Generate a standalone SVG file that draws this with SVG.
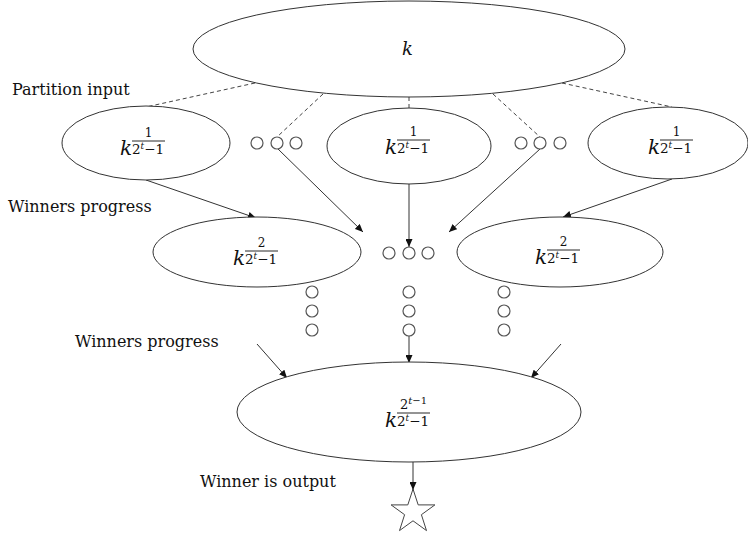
<svg xmlns="http://www.w3.org/2000/svg" width="748" height="537" viewBox="0 0 748 537">
<style>
.node{fill:#fff;stroke:#333;stroke-width:1}
.dot{fill:#fff;stroke:#555;stroke-width:1.2}
.lbl{font-family:"DejaVu Serif","Liberation Serif",serif;font-size:16px;fill:#111}
.mk{font-family:"DejaVu Serif","Liberation Serif",serif;font-style:italic;font-size:20px;fill:#111}
.num{font-family:"DejaVu Serif","Liberation Serif",serif;font-size:12px;fill:#111;text-anchor:middle}
.den{font-family:"DejaVu Serif","Liberation Serif",serif;font-size:13.5px;fill:#111}
.sup{font-style:italic;font-size:9px}
.fl{stroke:#111;stroke-width:0.9}
.dash{stroke:#444;stroke-width:1;stroke-dasharray:4,3;fill:none}
.arr{stroke:#333;stroke-width:1;fill:none;marker-end:url(#ah)}
</style>
<defs>
<marker id="ah" markerWidth="9" markerHeight="7" refX="8" refY="3.5" orient="auto" markerUnits="userSpaceOnUse">
<path d="M0,0 L8,3.5 L0,7 z" fill="#111"/>
</marker>
<g id="den">
<line class="fl" x1="12" y1="-14" x2="45" y2="-14"/>
<text class="den" x="12" y="-1">2<tspan class="sup" dy="-5.5">t</tspan><tspan dy="5.5">−1</tspan></text>
</g>
</defs>

<g id="connectors">
<line class="dash" x1="255" y1="83" x2="146" y2="107"/>
<line class="dash" x1="323" y1="94" x2="277" y2="137"/>
<line class="dash" x1="409" y1="97" x2="409" y2="108"/>
<line class="dash" x1="493" y1="94" x2="540" y2="137"/>
<line class="dash" x1="562" y1="83" x2="672" y2="107"/>
<line class="arr" x1="146" y1="180" x2="256" y2="218"/>
<line class="arr" x1="278" y1="149" x2="363" y2="232"/>
<line class="arr" x1="409" y1="184" x2="409" y2="247"/>
<line class="arr" x1="540" y1="149" x2="449" y2="232"/>
<line class="arr" x1="672" y1="179" x2="563" y2="217"/>
<line class="arr" x1="257" y1="344" x2="287" y2="378"/>
<line class="arr" x1="409" y1="336" x2="409" y2="363"/>
<line class="arr" x1="561" y1="344" x2="531" y2="378"/>
<line class="arr" x1="413" y1="462" x2="413" y2="490"/>
</g>

<g id="input">
<ellipse class="node" cx="409" cy="49" rx="216" ry="48"/>
<text class="mk" x="402" y="55" style="font-size:18px">k</text>
</g>

<g id="part-left">
<ellipse class="node" cx="146" cy="143" rx="84" ry="37"/>
<g transform="translate(120,155)"><text class="mk" x="0" y="0">k</text><text class="num" x="28.5" y="-18">1</text><use href="#den"/></g>
</g>
<g id="part-mid">
<ellipse class="node" cx="409" cy="146" rx="82" ry="38"/>
<g transform="translate(385,154)"><text class="mk" x="0" y="0">k</text><text class="num" x="28.5" y="-18">1</text><use href="#den"/></g>
</g>
<g id="part-right">
<ellipse class="node" cx="668" cy="143" rx="80" ry="36"/>
<g transform="translate(648,154)"><text class="mk" x="0" y="0">k</text><text class="num" x="28.5" y="-18">1</text><use href="#den"/></g>
</g>

<g id="dots-row1-left">
<circle class="dot" cx="257" cy="143" r="6"/>
<circle class="dot" cx="277" cy="143" r="6"/>
<circle class="dot" cx="296" cy="143" r="6"/>
</g>
<g id="dots-row1-right">
<circle class="dot" cx="521" cy="143" r="6"/>
<circle class="dot" cx="540" cy="143" r="6"/>
<circle class="dot" cx="560" cy="143" r="6"/>
</g>

<g id="round2-left">
<ellipse class="node" cx="257" cy="252" rx="104" ry="35"/>
<g transform="translate(233,265)"><text class="mk" x="0" y="0">k</text><text class="num" x="28.5" y="-18">2</text><use href="#den"/></g>
</g>
<g id="round2-right">
<ellipse class="node" cx="560" cy="252" rx="103" ry="35"/>
<g transform="translate(535,264)"><text class="mk" x="0" y="0">k</text><text class="num" x="28.5" y="-18">2</text><use href="#den"/></g>
</g>

<g id="dots-row2-mid">
<circle class="dot" cx="389" cy="253" r="6"/>
<circle class="dot" cx="409" cy="253" r="6"/>
<circle class="dot" cx="428" cy="253" r="6"/>
</g>
<g id="dots-col-left">
<circle class="dot" cx="312" cy="292" r="6"/>
<circle class="dot" cx="312" cy="311" r="6"/>
<circle class="dot" cx="312" cy="330" r="6"/>
</g>
<g id="dots-col-mid">
<circle class="dot" cx="409" cy="292" r="6"/>
<circle class="dot" cx="409" cy="311" r="6"/>
<circle class="dot" cx="409" cy="330" r="6"/>
</g>
<g id="dots-col-right">
<circle class="dot" cx="504" cy="292" r="6"/>
<circle class="dot" cx="504" cy="311" r="6"/>
<circle class="dot" cx="504" cy="330" r="6"/>
</g>

<g id="final">
<ellipse class="node" cx="409" cy="412" rx="172" ry="50"/>
<g transform="translate(385,427)"><text class="mk" x="0" y="0">k</text><text class="num" x="28.5" y="-18" style="font-size:13px">2<tspan style="font-style:italic;font-size:10px" dy="-5">t</tspan><tspan style="font-size:10px">−1</tspan></text><use href="#den"/></g>
</g>

<g id="winner">
<polygon points="413,489 418.2,504.9 434.9,504.9 421.4,514.7 426.5,530.6 413,520.8 399.5,530.6 404.6,514.7 391.1,504.9 407.8,504.9" fill="#fff" stroke="#444" stroke-width="1"/>
</g>

<g id="labels">
<text class="lbl" x="12" y="95">Partition input</text>
<text class="lbl" x="8" y="212">Winners progress</text>
<text class="lbl" x="75" y="347">Winners progress</text>
<text class="lbl" x="200" y="487">Winner is output</text>
</g>
</svg>
